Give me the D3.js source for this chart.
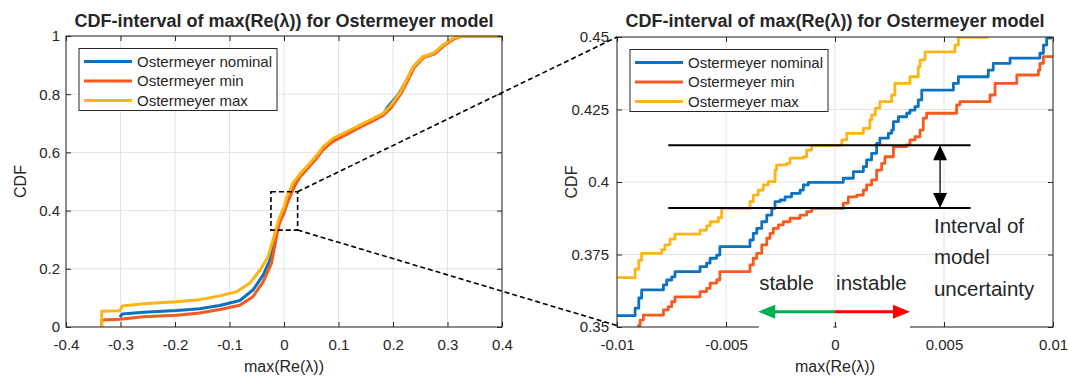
<!DOCTYPE html>
<html>
<head>
<meta charset="utf-8">
<script src="https://cdn.jsdelivr.net/npm/d3@7"></script>
<style>
  body { margin: 0; background: #fff; }
  text { font-family: "Liberation Sans", Arial, sans-serif; fill: #262626; }
</style>
</head>
<body>
<svg width="1069" height="379"></svg>
<script>
// series labels and colours (MATLAB default order)
const seriesNames = ["Ostermeyer nominal", "Ostermeyer min", "Ostermeyer max"];
const seriesColors = ["#0a72c0", "#f65a1e", "#fdb515"];

// full range CDF, [max(Re(lambda)), CDF]
const fullNominal = [[-0.301,0.033],[-0.297,0.045],[-0.258,0.051],[-0.197,0.057],[-0.155,0.063],[-0.118,0.074],
  [-0.081,0.091],[-0.057,0.127],[-0.038,0.179],[-0.026,0.23],[-0.01,0.354],[-0.005,0.378],[0,0.399],[0.005,0.426],
  [0.01,0.45],[0.016,0.475],[0.023,0.5],[0.03,0.522],[0.047,0.556],[0.06,0.585],[0.072,0.613],[0.09,0.642],
  [0.115,0.666],[0.139,0.689],[0.164,0.712],[0.182,0.732],[0.19,0.755],[0.21,0.8],[0.225,0.848],[0.237,0.893],
  [0.255,0.928],[0.274,0.939],[0.292,0.968],[0.31,0.991],[0.325,1],[0.4,1]];
const fullMin = [[-0.3345,0],[-0.3345,0.024],[-0.301,0.027],[-0.258,0.035],[-0.197,0.04],[-0.155,0.048],[-0.118,0.06],
  [-0.081,0.075],[-0.057,0.104],[-0.038,0.156],[-0.023,0.219],[-0.01,0.346],[-0.005,0.371],[0,0.391],[0.005,0.42],
  [0.01,0.443],[0.016,0.47],[0.023,0.496],[0.03,0.517],[0.047,0.552],[0.06,0.58],[0.072,0.61],[0.09,0.638],
  [0.115,0.662],[0.139,0.686],[0.164,0.709],[0.182,0.727],[0.196,0.752],[0.214,0.8],[0.227,0.846],[0.239,0.892],
  [0.257,0.927],[0.276,0.938],[0.294,0.967],[0.312,0.99],[0.328,1],[0.4,1]];
const fullMax = [[-0.3345,0],[-0.3345,0.054],[-0.301,0.056],[-0.297,0.072],[-0.258,0.08],[-0.197,0.087],[-0.155,0.094],
  [-0.118,0.107],[-0.087,0.121],[-0.063,0.15],[-0.044,0.196],[-0.029,0.242],[-0.01,0.367],[-0.005,0.391],[0,0.412],
  [0.005,0.445],[0.011,0.47],[0.016,0.494],[0.023,0.51],[0.03,0.528],[0.047,0.562],[0.06,0.59],[0.072,0.62],
  [0.09,0.648],[0.115,0.671],[0.139,0.694],[0.164,0.717],[0.182,0.734],[0.194,0.757],[0.212,0.803],[0.225,0.849],
  [0.237,0.894],[0.255,0.929],[0.274,0.94],[0.292,0.969],[0.31,0.992],[0.326,1],[0.4,1]];

// zoomed CDF around 0 (step data)
const zoomNominal = [[-0.01,0.3539],[-0.00917,0.3565],[-0.009,0.36],[-0.00887,0.3628],[-0.00787,0.3645],[-0.00772,0.3662],
  [-0.00749,0.3673],[-0.00734,0.3691],[-0.00619,0.3708],[-0.00589,0.372],[-0.00573,0.3737],[-0.00543,0.3748],
  [-0.00528,0.3777],[-0.0039,0.38],[-0.00375,0.3823],[-0.00359,0.384],[-0.00336,0.3863],[-0.00313,0.3886],
  [-0.0029,0.3909],[-0.00275,0.3932],[-0.00252,0.3938],[-0.00229,0.3949],[-0.00199,0.3961],[-0.0016,0.3972],
  [-0.00145,0.399],[-0.00122,0.3999],[0.00038,0.4013],[0.00084,0.4036],[0.0013,0.4053],[0.00145,0.4076],
  [0.00168,0.4099],[0.00191,0.4133],[0.00206,0.4151],[0.00245,0.4168],[0.0026,0.4179],[0.00268,0.4208],
  [0.00291,0.4225],[0.00329,0.4237],[0.00344,0.4248],[0.00367,0.426],[0.00382,0.4283],[0.00398,0.4317],
  [0.00543,0.434],[0.00566,0.4363],[0.00703,0.4386],[0.00726,0.4409],[0.00803,0.4427],[0.0094,0.4444],
  [0.00956,0.4472],[0.00971,0.4496],[0.0099,0.452],[0.011,0.452]];
const zoomMin = [[-0.0102,0.345],[-0.00902,0.3505],[-0.00894,0.3524],[-0.00879,0.3541],[-0.00787,0.3559],[-0.00765,0.357],
  [-0.00749,0.3587],[-0.00734,0.3604],[-0.00619,0.3622],[-0.00589,0.3633],[-0.00573,0.3651],[-0.00543,0.3662],
  [-0.00528,0.3691],[-0.0039,0.3714],[-0.00375,0.3737],[-0.00359,0.3754],[-0.00336,0.3783],[-0.00313,0.3806],
  [-0.00298,0.3823],[-0.00283,0.384],[-0.0026,0.3852],[-0.00237,0.3863],[-0.00206,0.3875],[-0.0016,0.3886],
  [-0.0013,0.3898],[-0.00107,0.3909],[0.00038,0.3927],[0.00061,0.3949],[0.001,0.3955],[0.0013,0.3972],
  [0.00145,0.399],[0.00168,0.4007],[0.00191,0.4041],[0.00214,0.4064],[0.00229,0.4087],[0.00268,0.4122],
  [0.00329,0.4128],[0.00344,0.4145],[0.00367,0.4156],[0.0039,0.4179],[0.00405,0.422],[0.0042,0.4237],
  [0.00558,0.4266],[0.00573,0.4277],[0.00711,0.43],[0.00734,0.434],[0.00834,0.4369],[0.00933,0.4386],
  [0.0094,0.4409],[0.00956,0.4432],[0.011,0.4432]];
const zoomMax = [[-0.0102,0.367],[-0.00917,0.37],[-0.009,0.373],[-0.00887,0.3754],[-0.00795,0.3766],[-0.0078,0.3783],
  [-0.00757,0.3803],[-0.00734,0.382],[-0.00619,0.3834],[-0.00589,0.3849],[-0.00573,0.3863],[-0.00535,0.3877],
  [-0.0052,0.3909],[-0.0039,0.3932],[-0.00375,0.3955],[-0.00352,0.3972],[-0.00329,0.399],[-0.00306,0.4001],
  [-0.00275,0.4041],[-0.00268,0.4059],[-0.00222,0.4064],[-0.00206,0.4082],[-0.00145,0.4087],[-0.0013,0.411],
  [-0.00107,0.4126],[0.00031,0.4145],[0.00054,0.4168],[0.0013,0.4185],[0.0016,0.4214],[0.00168,0.4231],
  [0.00185,0.4255],[0.00206,0.4277],[0.0026,0.43],[0.00275,0.434],[0.00344,0.4363],[0.00382,0.4397],
  [0.0039,0.4421],[0.00413,0.4449],[0.0055,0.4472],[0.00566,0.4499],[0.007,0.453],[0.011,0.453]];

const fullXTicks = [-0.4, -0.3, -0.2, -0.1, 0, 0.1, 0.2, 0.3, 0.4];
const fullYTicks = [0, 0.2, 0.4, 0.6, 0.8, 1];
const zoomXTicks = [-0.01, -0.005, 0, 0.005, 0.01];
const zoomYTicks = [0.35, 0.375, 0.4, 0.425, 0.45];

// dashed zoom window drawn on the full plot
const zoomWindow = [[-0.024, 0.333], [0.025, 0.465]];
// interval of model uncertainty
const intervalLevels = [0.391, 0.4127];
const intervalSpan = [-0.00765, 0.00622];
const intervalArrowX = 0.00482;

const titleText = "CDF-interval of max(Re(\u03bb)) for Ostermeyer model";
const xLabel = "max(Re(\u03bb))";

const svg = d3.select("svg");
const fmt = v => String(+v.toFixed(4));

function drawPanel(id, left, top, w, h, xDom, yDom, xTicks, yTicks, series, stepped, yPad) {
  const x = d3.scaleLinear().domain(xDom).range([left, left + w]);
  const y = d3.scaleLinear().domain(yDom).range([top + h, top]);
  const g = svg.append("g");

  svg.append("clipPath").attr("id", id)
    .append("rect").attr("x", left).attr("y", top).attr("width", w).attr("height", h);

  // grid
  g.selectAll(".gx").data(xTicks).enter().append("line")
    .attr("x1", d => x(d)).attr("x2", d => x(d)).attr("y1", top).attr("y2", top + h)
    .attr("stroke", "#e3e3e3").attr("stroke-width", 1);
  g.selectAll(".gy").data(yTicks).enter().append("line")
    .attr("x1", left).attr("x2", left + w).attr("y1", d => y(d)).attr("y2", d => y(d))
    .attr("stroke", "#e3e3e3").attr("stroke-width", 1);

  // curves
  const line = d3.line().x(d => x(d[0])).y(d => y(d[1]))
    .curve(stepped ? d3.curveStepAfter : d3.curveLinear);
  g.append("g").attr("clip-path", `url(#${id})`)
    .selectAll("path").data(series).enter().append("path")
    .attr("d", d => line(d))
    .attr("fill", "none")
    .attr("stroke", (d, i) => seriesColors[i])
    .attr("stroke-width", stepped ? 2.8 : 3)
    .attr("stroke-linejoin", "round");

  // box
  g.append("rect").attr("x", left).attr("y", top).attr("width", w).attr("height", h)
    .attr("fill", "none").attr("stroke", "#262626").attr("stroke-width", 1);

  // axes (ticks inside, like MATLAB)
  const styleAxis = a => {
    a.select(".domain").remove();
    a.selectAll("line").attr("stroke", "#262626");
    a.selectAll("text").attr("font-size", 15).attr("font-family", "Liberation Sans, Arial, sans-serif").attr("fill", "#262626");
  };
  g.append("g").attr("transform", `translate(0,${top + h})`)
    .call(d3.axisBottom(x).tickValues(xTicks).tickSize(-5).tickPadding(12).tickFormat(fmt)).call(styleAxis);
  g.append("g").attr("transform", `translate(0,${top})`)
    .call(d3.axisTop(x).tickValues(xTicks).tickSize(-5).tickFormat("")).call(styleAxis);
  g.append("g").attr("transform", `translate(${left},0)`)
    .call(d3.axisLeft(y).tickValues(yTicks).tickSize(-5).tickPadding(yPad).tickFormat(fmt)).call(styleAxis);
  g.append("g").attr("transform", `translate(${left + w},0)`)
    .call(d3.axisRight(y).tickValues(yTicks).tickSize(-5).tickFormat("")).call(styleAxis);

  // title and labels
  g.append("text").attr("x", left + w / 2).attr("y", 27).attr("text-anchor", "middle")
    .attr("font-weight", "bold").attr("font-size", 18).attr("fill", "#000").text(titleText);
  g.append("text").attr("x", left + w / 2).attr("y", 372).attr("text-anchor", "middle")
    .attr("font-size", 16).text(xLabel);
  g.append("text").attr("transform", `translate(${left - 40},${top + h / 2}) rotate(-90)`)
    .attr("text-anchor", "middle").attr("font-size", 16).text("CDF");

  // legend
  const lg = g.append("g").attr("transform", `translate(${left + 13},${top + 12.5})`);
  lg.append("rect").attr("width", 198).attr("height", 62)
    .attr("fill", "#fff").attr("stroke", "#262626").attr("stroke-width", 1);
  seriesNames.forEach((name, i) => {
    const yy = 13 + i * 19.5;
    lg.append("line").attr("x1", 5).attr("x2", 53).attr("y1", yy).attr("y2", yy)
      .attr("stroke", seriesColors[i]).attr("stroke-width", 2.8);
    lg.append("text").attr("x", 58).attr("y", yy + 5.3).attr("font-size", 15).text(name);
  });

  return { x, y, g };
}

const full = drawPanel("clipFull", 66, 36, 436, 291, [-0.4, 0.4], [0, 1],
  fullXTicks, fullYTicks, [fullNominal, fullMin, fullMax], false, 6);
const zoom = drawPanel("clipZoom", 617, 37, 436, 290, [-0.01, 0.01], [0.35, 0.45],
  zoomXTicks, zoomYTicks, [zoomNominal, zoomMin, zoomMax], true, 8);

// ---- annotations on the zoomed plot ----
const zx = zoom.x, zy = zoom.y;
const ann = svg.append("g");

// pasted box hides part of the bottom axis line
ann.append("line").attr("x1", zx(-0.00349)).attr("x2", zx(-0.00008))
  .attr("y1", zy(0.35)).attr("y2", zy(0.35)).attr("stroke", "#fff").attr("stroke-width", 2);
ann.append("line").attr("x1", zx(0.00008)).attr("x2", zx(0.00344))
  .attr("y1", zy(0.35)).attr("y2", zy(0.35)).attr("stroke", "#fff").attr("stroke-width", 2);

intervalLevels.forEach(v => {
  ann.append("line").attr("x1", zx(intervalSpan[0])).attr("x2", zx(intervalSpan[1]))
    .attr("y1", zy(v)).attr("y2", zy(v)).attr("stroke", "#000").attr("stroke-width", 2);
});

// double arrow
const ax = zx(intervalArrowX), aTop = zy(intervalLevels[1]), aBot = zy(intervalLevels[0]);
ann.append("line").attr("x1", ax).attr("x2", ax).attr("y1", aTop + 14).attr("y2", aBot - 14)
  .attr("stroke", "#000").attr("stroke-width", 1.3);
ann.append("path").attr("d", `M${ax},${aTop}L${ax - 7},${aTop + 15}L${ax + 7},${aTop + 15}Z`).attr("fill", "#000");
ann.append("path").attr("d", `M${ax},${aBot}L${ax - 7},${aBot - 15}L${ax + 7},${aBot - 15}Z`).attr("fill", "#000");

// stable / instable arrows
const arrowY = zy(0.3553), x0 = zx(0), xl = zx(-0.00352), xr = zx(0.00344);
ann.append("line").attr("x1", xl + 15).attr("x2", x0).attr("y1", arrowY).attr("y2", arrowY)
  .attr("stroke", "#00b050").attr("stroke-width", 3);
ann.append("path").attr("d", `M${xl},${arrowY}L${xl + 17},${arrowY - 7}L${xl + 17},${arrowY + 7}Z`).attr("fill", "#00b050");
ann.append("line").attr("x1", x0).attr("x2", xr - 15).attr("y1", arrowY).attr("y2", arrowY)
  .attr("stroke", "#ff0000").attr("stroke-width", 3);
ann.append("path").attr("d", `M${xr},${arrowY}L${xr - 17},${arrowY - 7}L${xr - 17},${arrowY + 7}Z`).attr("fill", "#ff0000");

ann.append("text").attr("x", zx(-0.00348)).attr("y", zy(0.3628)).attr("font-size", 20.5)
  .attr("fill", "#000").text("stable");
ann.append("text").attr("x", zx(0.00005)).attr("y", zy(0.3628)).attr("font-size", 20.5)
  .attr("fill", "#000").text("instable");
["Interval of", "model", "uncertainty"].forEach((t, i) => {
  ann.append("text").attr("x", zx(0.00454)).attr("y", zy(0.3825) + i * 31.5)
    .attr("font-size", 20.5).attr("fill", "#000").text(t);
});

// ---- zoom window on the full plot and connectors ----
const fx = full.x, fy = full.y;
const wx0 = fx(zoomWindow[0][0]), wx1 = fx(zoomWindow[1][0]);
const wy0 = fy(zoomWindow[1][1]), wy1 = fy(zoomWindow[0][1]);
const conn = svg.append("g").attr("fill", "none").attr("stroke", "#000")
  .attr("stroke-width", 1.6).attr("stroke-dasharray", "5,3");
conn.append("rect").attr("x", wx0).attr("y", wy0).attr("width", wx1 - wx0).attr("height", wy1 - wy0);
conn.append("line").attr("x1", wx1).attr("y1", wy0).attr("x2", zx(-0.01)).attr("y2", zy(0.45));
conn.append("line").attr("x1", wx1).attr("y1", wy1).attr("x2", zx(-0.01)).attr("y2", zy(0.3505));
</script>
</body>
</html>
